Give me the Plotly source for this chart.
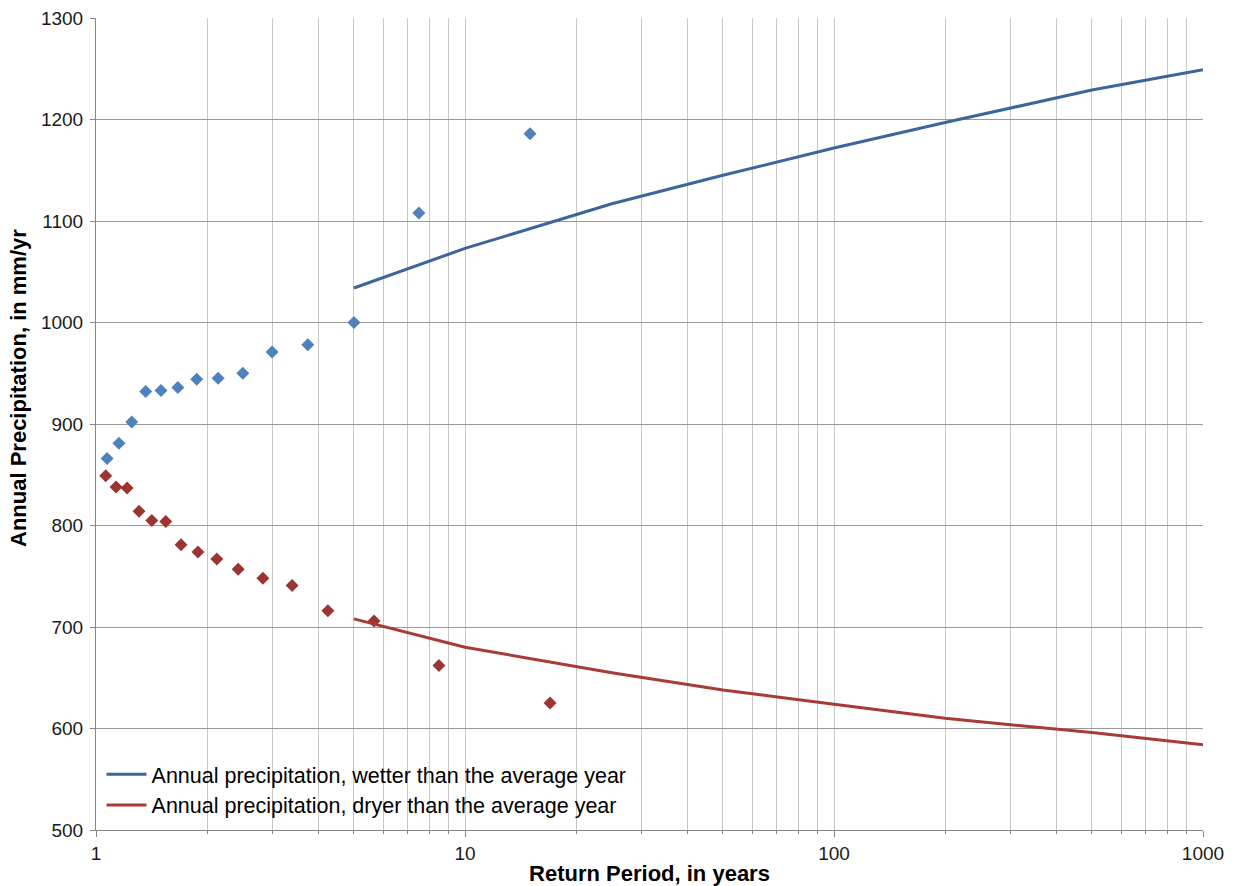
import plotly.graph_objects as go

# Observed (plotted) points
wet_T = [1.0714, 1.1538, 1.25, 1.3636, 1.5, 1.6667, 1.875, 2.1429, 2.5, 3.0, 3.75, 5.0, 7.5, 15.0]
wet_P = [866, 881, 902, 932, 933, 936, 944, 945, 950, 971, 978, 1000, 1108, 1186]

dry_T = [1.0625, 1.1333, 1.2143, 1.3077, 1.4167, 1.5455, 1.7, 1.8889, 2.125, 2.4286,
         2.8333, 3.4, 4.25, 5.6667, 8.5, 17.0]
dry_P = [849, 838, 837, 814, 805, 804, 781, 774, 767, 757, 748, 741, 716, 706, 662, 625]

# Fitted frequency curves
fit_T = [5, 10, 25, 50, 100, 200, 500, 1000]
wet_fit = [1034, 1073, 1117, 1145, 1172, 1197, 1229, 1249]
dry_fit = [708, 680, 655, 638, 624, 610, 596, 584]

x_major = [1, 10, 100, 1000]
x_minor = [m * d for d in (1, 10, 100) for m in range(2, 10)]

fig = go.Figure()
fig.add_trace(go.Scatter(x=wet_T, y=wet_P, mode="markers", showlegend=False,
                         marker=dict(symbol="diamond", size=10, color="#4F81BD")))
fig.add_trace(go.Scatter(x=dry_T, y=dry_P, mode="markers", showlegend=False,
                         marker=dict(symbol="diamond", size=10, color="#9B3532")))
fig.add_trace(go.Scatter(x=fit_T, y=wet_fit, mode="lines",
                         name="Annual precipitation, wetter than the average year",
                         line=dict(color="#3D6599", width=3)))
fig.add_trace(go.Scatter(x=fit_T, y=dry_fit, mode="lines",
                         name="Annual precipitation, dryer than the average year",
                         line=dict(color="#A83A37", width=3)))

plot_w = 1236 - 96 - 33
plot_h = 886 - 18 - 56

fig.update_layout(
    width=1236, height=886,
    margin=dict(l=96, r=33, t=18, b=56),
    paper_bgcolor="white", plot_bgcolor="white",
    font=dict(family="Liberation Sans, Arial, sans-serif", size=19, color="#1a1a1a"),
    legend=dict(x=0.005, y=0.094, xanchor="left", yanchor="top",
                bgcolor="rgba(255,255,255,0)", font=dict(size=21.5, color="#000"),
                itemwidth=40, tracegroupgap=0),
    xaxis=dict(type="log", range=[0, 3], tickvals=x_major, ticktext=[str(v) for v in x_major],
               showgrid=True, gridcolor="#C8C8C8", gridwidth=1,
               showline=True, linecolor="#868686", linewidth=1,
               ticks="outside", ticklen=6, tickcolor="#868686",
               tickfont=dict(size=19, color="#1a1a1a"),
               minor=dict(tickvals=x_minor, showgrid=True, gridcolor="#C8C8C8", gridwidth=1,
                          ticks="outside", ticklen=3, tickcolor="#868686"),
               title=dict(text="<b>Return Period, in years</b>", font=dict(size=22, color="#000"),
                          standoff=2),
               automargin=False, zeroline=False),
    yaxis=dict(range=[500, 1300], dtick=100, tick0=500,
               showgrid=True, gridcolor="#999999", gridwidth=1,
               showline=True, linecolor="#868686", linewidth=1,
               ticks="outside", ticklen=5, tickcolor="#868686",
               tickfont=dict(size=19, color="#1a1a1a"), ticklabelstandoff=3,
               automargin=False, zeroline=False),
    annotations=[dict(text="<b>Annual Precipitation, in mm/yr</b>", textangle=-90,
                      xref="paper", yref="paper",
                      x=(18 - 96) / plot_w, y=(830 - 388) / plot_h,
                      xanchor="center", yanchor="middle", showarrow=False,
                      font=dict(size=22, color="#000"))],
)

fig.write_html("out.html")
